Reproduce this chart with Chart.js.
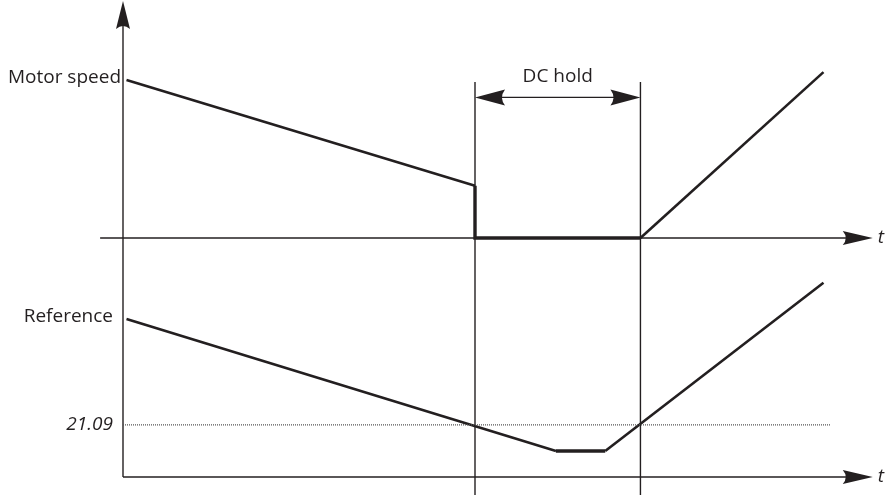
<!DOCTYPE html>
<html>
<head>
    <meta charset="utf-8">
    <title>DC hold</title>
    <script src="https://cdn.jsdelivr.net/npm/chart.js"></script>
    <style>
        html, body {
            margin: 0;
            padding: 0;
            background: #ffffff;
        }
        #wrap {
            width: 893px;
            height: 495px;
        }
    </style>
</head>
<body>
    <div id="wrap"><canvas id="dcChart" width="893" height="495"></canvas></div>

    <script>
    // time points (arbitrary units, DC hold starts at t = 10)
    const motorTime = [0.1, 10, 10, 14.7, 19.9];
    const motorSpeed = [100, 33, 0, 0, 105];
    const refTime = [0.1, 12.3, 13.7, 19.9];
    const refValue = [100, 16.5, 16.5, 123];
    const limitTime = [0, 20.1];
    const limitValue = [33, 33];
    const limitLabel = '21.09';
    const dcHold = [10, 14.7];
    const axisEndTime = 21.3;

    const INK = '#231f20';
    const FONT = '"Open Sans", "Noto Sans", sans-serif';

    function pts(xs, ys) {
        return xs.map((x, i) => ({ x: x, y: ys[i] }));
    }

    function arrowHead(ctx, x, y, dir, len, half) {
        // dir: 'right', 'left', 'up'
        ctx.beginPath();
        if (dir === 'right') {
            ctx.moveTo(x, y);
            ctx.lineTo(x - len, y - half);
            ctx.quadraticCurveTo(x - len + 6, y, x - len, y + half);
        } else if (dir === 'left') {
            ctx.moveTo(x, y);
            ctx.lineTo(x + len, y - half);
            ctx.quadraticCurveTo(x + len - 6, y, x + len, y + half);
        } else {
            ctx.moveTo(x, y);
            ctx.lineTo(x - half, y + len);
            ctx.quadraticCurveTo(x, y + len - 6, x + half, y + len);
        }
        ctx.closePath();
        ctx.fill();
    }

    // axes, guides, arrows and labels drawn with the scales
    const diagramPlugin = {
        id: 'diagram',
        beforeDatasetsDraw(chart) {
            const ctx = chart.ctx;
            const xs = chart.scales.x;
            const ym = chart.scales.yMotor;
            const yr = chart.scales.yRef;
            const x0 = xs.getPixelForValue(0);
            const xEnd = xs.getPixelForValue(axisEndTime);
            const yTop = ym.getPixelForValue(150);
            const yM0 = ym.getPixelForValue(0);
            const yR0 = yr.getPixelForValue(0);

            ctx.save();
            ctx.strokeStyle = INK;
            ctx.fillStyle = INK;
            ctx.lineWidth = 1.4;

            // vertical axis
            ctx.beginPath();
            ctx.moveTo(x0, yTop + 10);
            ctx.lineTo(x0, yR0);
            ctx.stroke();
            arrowHead(ctx, x0, yTop, 'up', 28, 7);

            // upper time axis
            ctx.beginPath();
            ctx.moveTo(xs.getPixelForValue(-0.65), yM0);
            ctx.lineTo(xEnd - 10, yM0);
            ctx.stroke();
            arrowHead(ctx, xEnd, yM0, 'right', 30, 7);

            // lower time axis
            ctx.beginPath();
            ctx.moveTo(x0, yR0);
            ctx.lineTo(xEnd - 10, yR0);
            ctx.stroke();
            arrowHead(ctx, xEnd, yR0, 'right', 30, 7);

            // DC hold guides
            const gTop = ym.getPixelForValue(98.7);
            const gArrow = ym.getPixelForValue(89);
            const gBottom = chart.height;
            dcHold.forEach(t => {
                const gx = xs.getPixelForValue(t);
                ctx.beginPath();
                ctx.moveTo(gx, gTop);
                ctx.lineTo(gx, gBottom);
                ctx.stroke();
            });
            const a = xs.getPixelForValue(dcHold[0]);
            const b = xs.getPixelForValue(dcHold[1]);
            ctx.beginPath();
            ctx.moveTo(a + 10, gArrow);
            ctx.lineTo(b - 10, gArrow);
            ctx.stroke();
            arrowHead(ctx, a, gArrow, 'left', 30, 8);
            arrowHead(ctx, b, gArrow, 'right', 30, 8);

            // labels
            ctx.textBaseline = 'middle';
            ctx.font = '19px ' + FONT;
            ctx.textAlign = 'center';
            ctx.fillText('DC hold', (a + b) / 2, ym.getPixelForValue(102));
            ctx.textAlign = 'right';
            ctx.fillText('Motor speed', x0 - 2, ym.getPixelForValue(101.5));
            ctx.fillText('Reference', x0 - 10, yr.getPixelForValue(101.5));
            ctx.font = 'italic 19px ' + FONT;
            ctx.fillText(limitLabel, x0 - 10, yr.getPixelForValue(limitValue[0]));
            ctx.textAlign = 'left';
            ctx.fillText('t', xEnd + 5, yM0);
            ctx.fillText('t', xEnd + 5, yR0);
            ctx.restore();
        }
    };

    const thick = (ctx, w) => {
        const p0 = ctx.p0.parsed, p1 = ctx.p1.parsed;
        return (p0.x === p1.x || p0.y === p1.y) ? w : undefined;
    };

    new Chart(document.getElementById('dcChart'), {
        type: 'line',
        data: {
            datasets: [
                {
                    label: limitLabel,
                    data: pts(limitTime, limitValue),
                    yAxisID: 'yRef',
                    borderColor: '#555555',
                    borderWidth: 1.3,
                    borderDash: [1, 1],
                    pointRadius: 0
                },
                {
                    label: 'Motor speed',
                    data: pts(motorTime, motorSpeed),
                    yAxisID: 'yMotor',
                    borderColor: INK,
                    borderWidth: 2.6,
                    pointRadius: 0,
                    segment: { borderWidth: c => thick(c, 3.4) }
                },
                {
                    label: 'Reference',
                    data: pts(refTime, refValue),
                    yAxisID: 'yRef',
                    borderColor: INK,
                    borderWidth: 2.6,
                    pointRadius: 0,
                    segment: { borderWidth: c => thick(c, 3.6) }
                }
            ]
        },
        options: {
            responsive: false,
            animation: false,
            layout: { padding: 0 },
            plugins: {
                legend: { display: false },
                tooltip: { enabled: false }
            },
            scales: {
                x: {
                    type: 'linear',
                    display: false,
                    min: -123 / 35.2,
                    max: (893 - 123) / 35.2
                },
                yMotor: {
                    type: 'linear',
                    display: false,
                    min: -(495 - 238) / 1.58,
                    max: 238 / 1.58
                },
                yRef: {
                    type: 'linear',
                    display: false,
                    min: -(495 - 477) / 1.58,
                    max: 477 / 1.58
                }
            }
        },
        plugins: [diagramPlugin]
    });
    </script>
</body>
</html>
